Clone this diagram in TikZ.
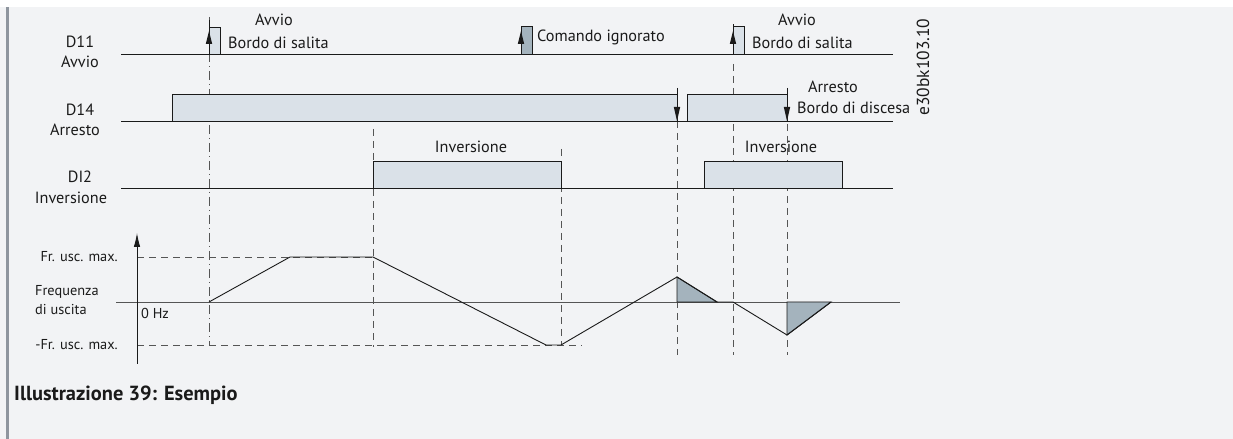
\documentclass[tikz,border=0pt]{standalone}
\usepackage{fontspec}
\setmainfont{PT Sans}
\usetikzlibrary{arrows.meta}
\definecolor{bg}{HTML}{F2F3F5}
\definecolor{bar}{HTML}{8E959E}
\definecolor{lightfill}{HTML}{DAE1E8}
\definecolor{darkfill}{HTML}{A4B3BD}
\definecolor{ink}{HTML}{1A1A1A}
\definecolor{guidecol}{HTML}{555555}
\begin{document}
\begin{tikzpicture}[x=1bp,y=-1bp,
  lbl/.style={font=\fontsize{16.3}{18}\selectfont, text=ink, inner sep=0},
  slbl/.style={font=\fontsize{14.4}{16}\selectfont, text=ink, inner sep=0},
  sig/.style={draw=ink, line width=0.9bp},
  pulsebox/.style={draw=ink, line width=0.8bp, fill=lightfill},
  ignbox/.style={draw=ink, line width=0.8bp, fill=darkfill},
  guideline/.style={draw=guidecol, line width=0.9bp, dash pattern=on 7bp off 5bp},
  dashdot/.style={draw=guidecol, line width=0.9bp, dash pattern=on 9bp off 4bp on 1bp off 4bp},
  tri/.style={fill=ink},
  shade/.style={fill=darkfill, draw=ink, line width=0.9bp}
]
\useasboundingbox (0,0) rectangle (1233,439);
\fill[white] (0,0) rectangle (1233,439);
\fill[bg] (0,7) rectangle (1233,439);
\fill[bar] (6,7) rectangle (8.5,439);

% guide lines (under the boxes)
\draw[dashdot] (209,17) -- (209,345);
\draw[guideline] (373,129) -- (373,347);
\draw[guideline] (561,149) -- (561,345);
\draw[guideline] (677,121) -- (677,355);
\draw[guideline] (733,64) -- (733,355);
\draw[guideline] (787,124) -- (787,355);
\draw[guideline] (137,257) -- (373,257);
\draw[guideline] (137,345) -- (582,345);

% D11
\draw[sig] (121,54) -- (893,54);
\draw[pulsebox] (209,54) rectangle (220,27);
\draw[ignbox] (521,54) rectangle (532,26);
\draw[pulsebox] (733,54) rectangle (744,26);
\foreach \x/\t in {209/20,521/26,733/24}{
  \draw[sig] (\x,54) -- (\x,\t);
  \fill[tri] (\x,31) -- (\x-3.2,44) -- (\x+3.2,44) -- cycle;
}

% D14
\draw[sig] (121,121) -- (893,121);
\draw[pulsebox] (172,121) -- (172,94) -- (677,94) -- (677,121);
\draw[pulsebox] (687,121) -- (687,94) -- (787,94) -- (787,121);
\foreach \x in {677,787}{
  \draw[sig] (\x,88) -- (\x,121);
  \fill[tri] (\x,121) -- (\x-3.2,107) -- (\x+3.2,107) -- cycle;
}

% DI2
\draw[sig] (121,188) -- (893,188);
\draw[pulsebox] (373,188) rectangle (561,161);
\draw[pulsebox] (704,188) rectangle (842,161);

% frequency
\draw[draw=guidecol, line width=0.9bp] (116,302) -- (900,302);
\draw[sig, -{Latex[length=14bp,width=6.5bp]}] (137,364) -- (137,233);
\draw[shade] (677,277) -- (717,302) -- (677,302) -- cycle;
\draw[shade] (787,302) -- (831,302) -- (787,335) -- cycle;
\draw[sig, line join=round] (209,302) -- (290,257) -- (373,257) -- (546,345) -- (561,345) -- (677,277) -- (717,302) -- (733,302) -- (787,335) -- (831,302);

% labels
\node[lbl] (d11) at (80,42) {D11};
\node[lbl] (d11b) at (80,62) {Avvio};
\node[lbl] (d14) at (80,110) {D14};
\node[lbl] (d14b) at (75,130) {Arresto};
\node[lbl] (di2) at (80,177) {DI2};
\node[lbl] (di2b) at (71,198) {Inversione};
\node[slbl, anchor=east] (fmax) at (118,257) {Fr. usc. max.};
\node[slbl, anchor=west] (fq1) at (35,292) {Frequenza};
\node[slbl, anchor=west] (fq2) at (35,310) {di uscita};
\node[slbl, anchor=west] (zhz) at (141,313) {0 Hz};
\node[slbl, anchor=east] (fmin) at (118,345) {-Fr. usc. max.};
\node[lbl] (a1) at (274,20) {Avvio};
\node[lbl, anchor=west] (b1) at (228,43) {Bordo di salita};
\node[lbl, anchor=west] (ci) at (537,37) {Comando ignorato};
\node[lbl] (a2) at (797,20) {Avvio};
\node[lbl, anchor=west] (b2) at (752,43) {Bordo di salita};
\node[lbl] (ar) at (833,87) {Arresto};
\node[lbl, anchor=west] (bd) at (797,108) {Bordo di discesa};
\node[lbl] (inv1) at (471,147) {Inversione};
\node[lbl] (inv2) at (781,147) {Inversione};
\node[font=\fontsize{17.5}{19}\selectfont, text=ink, inner sep=0, rotate=90] (code) at (923,67) {e30bk103.10};
\node[font=\bfseries\fontsize{20.5}{22}\selectfont, text=ink, inner sep=0, anchor=west] (cap) at (14,395) {Illustrazione 39: Esempio};
\end{tikzpicture}
\end{document}
